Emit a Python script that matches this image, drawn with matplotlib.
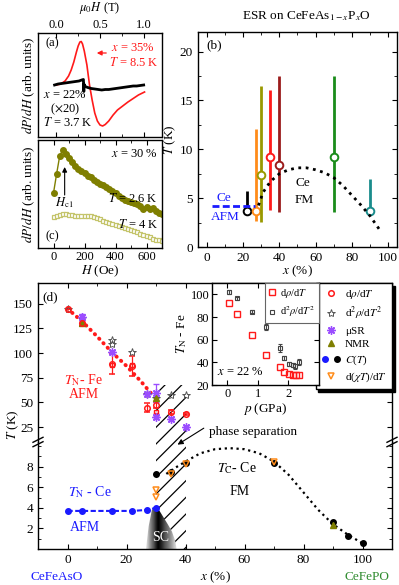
import numpy as np
import matplotlib
matplotlib.use('Agg')
import matplotlib.pyplot as plt
from matplotlib.patches import Rectangle, Polygon
from matplotlib.lines import Line2D
from matplotlib.legend_handler import HandlerTuple
from matplotlib.ticker import MultipleLocator

plt.rcParams['font.family'] = ['Liberation Serif', 'DejaVu Serif']
plt.rcParams['mathtext.fontset'] = 'stix'
plt.rcParams['font.size'] = 9.5
plt.rcParams['xtick.direction'] = 'in'
plt.rcParams['ytick.direction'] = 'in'
plt.rcParams['xtick.major.size'] = 3.5
plt.rcParams['ytick.major.size'] = 3.5
plt.rcParams['xtick.minor.size'] = 2
plt.rcParams['ytick.minor.size'] = 2
plt.rcParams['axes.linewidth'] = 1.0
plt.rcParams['hatch.linewidth'] = 0.9

W, H = 399, 585

RED = '#ff1a1a'
BLUE = '#1a1aff'
ORANGE = '#ff8c1a'
OLIVE = '#7f7f00'
PALE_OLIVE = '#c4c46a'
PURPLE = '#9b4dff'
STAR = '#555555'
GREEN_TXT = '#2e8b2e'

# ---- panel (a): ESR derivative spectra
a_red_field = [0.00, 0.05, 0.10, 0.14, 0.17, 0.20, 0.23, 0.25, 0.27, 0.285, 0.30, 0.32, 0.35,
               0.38, 0.41, 0.44, 0.47, 0.50, 0.53, 0.56, 0.60, 0.65, 0.70, 0.76, 0.82, 0.88, 0.94, 1.01]
a_red_signal = [52, 53, 56, 61, 67, 75, 85, 91, 95, 95.5, 93, 86, 72,
                52, 37, 24, 16, 12, 11, 12.5, 16, 22, 27, 31, 35, 38.5, 42, 45]
a_black_field = [-0.02, 0.02, 0.06, 0.10, 0.14, 0.18, 0.22, 0.26, 0.29, 0.31, 0.315, 0.316, 0.33,
                 0.36, 0.40, 0.44, 0.48, 0.52, 0.56, 0.60, 0.64, 0.68, 0.72, 0.76, 0.80, 0.84,
                 0.88, 0.92, 0.96, 1.00]
a_black_signal = [52, 53, 53.5, 54, 54.5, 55, 55.5, 56, 57, 57.5, 45.5, 53, 50.5,
                  49.5, 48.5, 48, 47.5, 47, 47.5, 47.5, 48, 48.5, 49, 49.5, 50, 50.5,
                  51, 51, 51.5, 52]

# ---- panel (c): dP/dH vs H at x = 30 %
c_field = [0, 20, 40, 60, 80, 100, 120, 140, 160, 180, 200, 220, 240, 260, 280, 300, 320, 340,
           360, 380, 400, 420, 440, 460, 480, 500, 520, 540, 560, 580, 600, 620, 640, 660, 680, 700]
c_signal_2p6K = [55, 74, 92, 98, 94, 90, 86, 82.5, 79, 77, 75, 72.5, 71, 68, 66, 64.5, 63, 61.5,
                 59.5, 57, 55, 52.5, 50.5, 48.5, 47, 46, 45, 44, 42.5, 39.5, 41.5, 39, 40, 37.5, 35.5, 34]
c_signal_4K = [30.7, 32.5, 33.5, 34, 34, 33.5, 33, 32.5, 32, 32, 32.5, 32.5, 32, 31, 30, 29, 27.5, 26.5,
               25.5, 24.5, 23.5, 22.5, 21.5, 20.5, 19.5, 18.5, 17, 16, 14.5, 13, 12, 11, 9.5, 8.5, 8, 7]

# ---- panel (b): ESR temperature ranges
b_x = [22, 27, 30, 35, 40, 70, 90]
b_T = [3.65, 3.7, 7.4, 9.2, 8.4, 9.2, 3.7]
b_T_low = [3.65, 2.7, 2.55, 3.8, 3.6, 3.6, 3.7]
b_T_high = [5.7, 12.1, 16.5, 16.1, 17.5, 17.5, 7.0]
b_colors = ['black', ORANGE, '#999900', RED, '#9b1c1c', '#1a8c1a', '#1a8c8c']
b_tc_x = [28.4, 31, 35, 40, 45, 50, 55, 60, 65, 70, 75, 80, 85, 90, 96]
b_tc_T = [4.25, 5.6, 6.7, 7.5, 7.9, 8.1, 8.1, 7.9, 7.6, 7.1, 6.3, 5.3, 4.3, 3.2, 1.6]
b_afm_x = [2.7, 26.6]
b_afm_T = [4.18, 4.18]

# ---- panel (d): phase diagram
d_fe_line_x = [0, 5, 10, 15, 20, 25, 29]
d_fe_line_T = [145, 132, 117, 101, 87, 71, 57]
d_rho_x = [0, 5, 15, 22, 27, 30, 35, 40]
d_rho_T = [145, 131, 89, 87, 44.5, 47.5, 40.5, 38.5]
d_rho_err = [0, 4, 10, 10, 4.5, 3, 2, 1]
d_sq_x = [5, 15, 22, 30, 30]
d_sq_T = [131, 88, 88, 40, 37.5]
d_star_x = [0, 5, 15, 15, 22, 27, 30, 35, 40]
d_star_T = [145, 136, 113, 109, 101, 59, 55, 58, 58]
d_musr_x = [5, 15, 27, 30, 30, 35, 40]
d_musr_T = [137, 101.5, 59, 60, 35, 33.5, 25.5]
d_musr_err = [3, 0, 0, 9, 0, 0, 0]
d_nmr_hi_x = [5, 30]
d_nmr_hi_T = [130, 55]
d_ce_afm_x = [0, 5, 15, 22, 27, 30]
d_ce_afm_T = [3.7, 3.7, 3.7, 3.7, 3.8, 4.0]
d_ct_black_x = [30, 35, 40, 70, 90, 95, 100]
d_ct_black_T = [7.3, 7.5, 8.4, 8.4, 2.6, 1.3, 0.6]
d_chi_x = [30, 30, 35, 40, 70]
d_chi_T = [5.7, 5.1, 7.3, 8.3, 8.5]
d_nmr_lo_x = [90]
d_nmr_lo_T = [2.3]
d_tc_x = [33.5, 36, 40, 45, 50, 55, 60, 65, 70, 75, 80, 85, 90, 95, 100]
d_tc_T = [7.3, 7.8, 8.5, 9.3, 9.7, 9.8, 9.7, 9.3, 8.5, 7.2, 5.5, 3.8, 2.4, 1.4, 0.55]
sc_dome_x = [26.6, 27.5, 28.6, 29.7, 31.0, 32.5, 34.0, 35.4, 36.5, 37.0]
sc_dome_T = [0.0, 2.2, 3.8, 4.1, 3.8, 3.1, 2.4, 1.7, 0.8, 0.0]

# ---- inset: T_N(Fe) vs pressure, x = 22 %
p_rho = [0.04, 0.31, 0.82, 1.28, 1.71, 1.87, 2.01, 2.14, 2.25, 2.35]
tn_rho = [92, 83, 64.5, 46.7, 36.3, 31.8, 29.8, 28.9, 28.9, 28.9]
p_d2rho = [0.04, 0.31, 0.82, 1.25, 1.71, 1.84, 2.01, 2.14, 2.22, 2.35]
tn_d2rho = [102, 96.5, 84.6, 71.3, 53, 44, 38.5, 37.5, 36.5, 40.5]
tn_d2rho_err = [1.5, 1.5, 1.5, 2.5, 3.5, 2, 2, 2, 2, 2.5]


def px_axes(fig, left, top, right, bottom, **kw):
    return fig.add_axes([left / W, 1 - bottom / H, (right - left) / W, (bottom - top) / H], **kw)


def fig_text(fig, x, y, s, **kw):
    fig.text(x / W, 1 - y / H, s, **kw)


fig = plt.figure(figsize=(W / 100, H / 100), dpi=100)

# ======================= (a)
ax_a = px_axes(fig, 38, 33, 162, 137)
ax_a.plot(a_red_field, a_red_signal, color=RED, lw=1.2)
ax_a.plot(a_black_field, a_black_signal, color='black', lw=2.0)
ax_a.set_xlim(-0.21, 1.21)
ax_a.set_ylim(0, 104)
ax_a.xaxis.set_major_locator(MultipleLocator(0.5))
ax_a.xaxis.set_minor_locator(MultipleLocator(0.25))
ax_a.xaxis.set_major_formatter(matplotlib.ticker.FormatStrFormatter('%.1f'))
ax_a.tick_params(axis='x', which='both', top=True, bottom=True, labeltop=True, labelbottom=False,
                 pad=1.5, labelsize=9)
ax_a.set_yticks([])
ax_a.set_ylabel(r'$dP/dH$ (arb. units)', labelpad=1)
fig_text(fig, 100, 8, r'$\mu_0H$ (T)', ha='center', va='center', fontsize=9)
ax_a.text(0.06, 0.90, '(a)', transform=ax_a.transAxes, va='center', fontsize=9)
fig_text(fig, 111, 48, r'$x$ = 35%', color=RED, va='center', fontsize=9)
fig_text(fig, 109, 62, r'$T$ = 8.5 K', color=RED, va='center', fontsize=9)
fig.add_artist(matplotlib.patches.FancyArrowPatch((109 / W, 1 - 53 / H), (94 / W, 1 - 53 / H),
                                                  transform=fig.transFigure, arrowstyle='-|>',
                                                  mutation_scale=7, color=RED, lw=0.9))
fig_text(fig, 43, 95, r'$x$ = 22%', va='center', fontsize=9)
fig_text(fig, 65, 109, r'($\times$20)', va='center', ha='center', fontsize=9)
fig_text(fig, 43, 122, r'$T$ = 3.7 K', va='center', fontsize=9)

# ======================= (c)
ax_c = px_axes(fig, 38, 140, 162, 248)
ax_c.plot(c_field, c_signal_2p6K, '-o', color=OLIVE, ms=4, lw=1.0)
ax_c.plot(c_field, c_signal_4K, '-s', color=PALE_OLIVE, mfc='white', ms=3.5, mew=0.9, lw=0.8)
ax_c.set_xlim(-100, 700)
ax_c.set_ylim(0, 108)
ax_c.xaxis.set_major_locator(MultipleLocator(200))
ax_c.xaxis.set_minor_locator(MultipleLocator(100))
ax_c.tick_params(axis='x', which='both', top=True, labelsize=9, pad=2.5)
ax_c.set_yticks([])
ax_c.set_xlabel(r'$H$ (Oe)', labelpad=0)
ax_c.set_ylabel(r'$dP/dH$ (arb. units)', labelpad=1)
ax_c.text(0.97, 0.87, r'$x$ = 30 %', transform=ax_c.transAxes, ha='right', va='center', fontsize=9)
ax_c.text(0.97, 0.46, r'$T$ = 2.6 K', transform=ax_c.transAxes, ha='right', va='center', fontsize=9)
ax_c.text(0.97, 0.22, r'$T$ = 4 K', transform=ax_c.transAxes, ha='right', va='center', fontsize=9)
ax_c.text(0.06, 0.11, '(c)', transform=ax_c.transAxes, va='center', fontsize=9)
ax_c.annotate('', xy=(72, 81), xytext=(72, 53),
              arrowprops=dict(arrowstyle='-|>', color='black', lw=0.8, mutation_scale=7,
                              shrinkA=0, shrinkB=0))
ax_c.text(70, 45, r'$H_{\rm c1}$', ha='center', va='center', fontsize=9)

# ======================= (b)
ax_b = px_axes(fig, 198, 32, 397, 247)
for x, t, lo, hi, c in zip(b_x, b_T, b_T_low, b_T_high, b_colors):
    ax_b.plot([x, x], [lo, hi], color=c, lw=2.0, solid_capstyle='butt')
    ax_b.plot(x, t, 'o', mfc='white', mec=c, mew=1.4, ms=5.5)
ax_b.plot(b_tc_x, b_tc_T, ':', color='black', lw=2.0)
ax_b.plot(b_afm_x, b_afm_T, '--', color=BLUE, lw=2.0, dashes=(2.5, 1.2))
ax_b.set_xlim(-5, 105)
ax_b.set_ylim(0, 22)
ax_b.xaxis.set_major_locator(MultipleLocator(20))
ax_b.xaxis.set_minor_locator(MultipleLocator(10))
ax_b.yaxis.set_major_locator(MultipleLocator(5))
ax_b.yaxis.set_minor_locator(MultipleLocator(2.5))
ax_b.tick_params(which='both', top=True, right=True)
ax_b.set_xlabel(r'$x$ (%)', labelpad=0)
ax_b.set_ylabel(r'$T$ (K)', labelpad=1)
ax_b.text(0.04, 0.94, '(b)', transform=ax_b.transAxes, va='center')
ax_b.text(9.5, 5.0, 'Ce', color=BLUE, ha='center', va='center')
ax_b.text(10, 3.05, 'AFM', color=BLUE, ha='center', va='center')
ax_b.text(53, 6.5, 'Ce', ha='center', va='center')
ax_b.text(53.5, 4.8, 'FM', ha='center', va='center')
fig_text(fig, 306, 16, r'ESR on CeFeAs$_{1-x}$P$_x$O', ha='center', va='center')

# ======================= (d) upper
ax_up = px_axes(fig, 38, 283, 392, 442)
ax_lo = px_axes(fig, 38, 442, 392, 549)

ax_up.plot(d_fe_line_x, d_fe_line_T, color=RED, lw=2.8, ls=(0, (0.1, 1.5)), dash_capstyle='round', zorder=2)
ax_up.errorbar(d_rho_x, d_rho_T, yerr=d_rho_err, fmt='o', mfc='none', mec=RED, ecolor=RED,
               ms=4, mew=1.1, elinewidth=0.9, capsize=2, zorder=4)
ax_up.plot(d_sq_x, d_sq_T, 's', mfc='none', mec=RED, ms=3.5, mew=1.0, zorder=4)
ax_up.plot(d_star_x, d_star_T, '*', mfc='none', mec=STAR, ms=6, mew=0.7, zorder=4)
ax_up.errorbar(d_musr_x, d_musr_T, yerr=d_musr_err, fmt='none', ecolor=PURPLE, elinewidth=0.9,
               capsize=2, zorder=4)
ax_up.plot(d_musr_x, d_musr_T, ls='none', marker=(8, 2, 0), color=PURPLE, ms=6, mew=1.0, zorder=4)
ax_up.plot(d_nmr_hi_x, d_nmr_hi_T, '^', color=OLIVE, ms=5, zorder=4)
ax_up.add_patch(Rectangle((30, 10), 10, 58, hatch='//', fill=False, edgecolor='black', lw=0, zorder=1))
ax_up.set_xlim(-10, 110)
ax_up.set_ylim(10, 171)
ax_up.set_yticks([25, 50, 75, 100, 125, 150])
ax_up.xaxis.set_major_locator(MultipleLocator(20))
ax_up.xaxis.set_minor_locator(MultipleLocator(10))
ax_up.tick_params(axis='x', which='both', bottom=False, top=True, labelbottom=False)
ax_up.tick_params(axis='y', which='both', right=True)
ax_up.spines['bottom'].set_visible(False)
ax_up.text(-8.5, 157, '(d)', va='center')
ax_up.text(5.5, 73, r'$T_{\rm N}$- Fe', color=RED, ha='center', va='center', fontsize=10)
ax_up.text(5.7, 58, 'AFM', color=RED, ha='center', va='center', fontsize=10)
ax_up.text(48, 20.4, 'phase separation', ha='left', va='center')

# legend for (d)
h_rho = Line2D([], [], ls='none', marker='o', mfc='none', mec=RED, ms=4, mew=1.1)
h_star = Line2D([], [], ls='none', marker='*', mfc='none', mec=STAR, ms=6, mew=0.7)
h_musr = Line2D([], [], ls='none', marker=(8, 2, 0), color=PURPLE, ms=6, mew=1.0)
h_nmr = Line2D([], [], ls='none', marker='^', color=OLIVE, ms=5)
h_ct_blue = Line2D([], [], ls='none', marker='o', color=BLUE, ms=4)
h_ct_black = Line2D([], [], ls='none', marker='o', color='black', ms=4)
h_chi = Line2D([], [], ls='none', marker='v', mfc='none', mec=ORANGE, ms=4.5, mew=1.1)
leg = ax_up.legend([h_rho, h_star, h_musr, h_nmr, (h_ct_blue, h_ct_black), h_chi],
                   [r'd$\rho$/d$T$', r'd$^2\rho$/d$T^2$', 'μSR', 'NMR', r'$C$($T$)', r'd($\chi T$)/d$T$'],
                   handler_map={tuple: HandlerTuple(ndivide=None, pad=0.4)},
                   loc='upper right', bbox_to_anchor=(1.0, 1.0), borderaxespad=0, fontsize=8,
                   frameon=True, fancybox=False, shadow={'color': 'black', 'alpha': 1},
                   edgecolor='black', framealpha=1, handlelength=1.8, handletextpad=0.4,
                   labelspacing=0.35, borderpad=0.45)
leg.get_frame().set_linewidth(1.0)
leg.set_zorder(10)

# ======================= (d) lower
ax_lo.add_patch(Rectangle((30, 0), 10, 10.4, hatch='//', fill=False, edgecolor='black', lw=0, zorder=1))
gx = np.linspace(sc_dome_x[0], sc_dome_x[-1], 200)
peak = 30.7
shade = np.where(gx < peak, (gx - gx[0]) / (peak - gx[0]), (gx[-1] - gx) / (gx[-1] - peak)) ** 0.8
im = ax_lo.imshow(shade[np.newaxis, :], extent=(gx[0], gx[-1], 0, max(sc_dome_T)), aspect='auto',
                  cmap='Greys', vmin=-0.2, vmax=1.0, zorder=2, interpolation='bilinear')
dome = Polygon(np.column_stack([sc_dome_x, sc_dome_T]), closed=True, facecolor='none',
               edgecolor='none', transform=ax_lo.transData)
ax_lo.add_patch(dome)
im.set_clip_path(dome)
ax_lo.plot(d_ce_afm_x, d_ce_afm_T, '-o', color=BLUE, ms=4, lw=1.5, dashes=(2.5, 1.2), zorder=4)
ax_lo.plot(d_tc_x, d_tc_T, ':', color='black', lw=1.6, zorder=3)
ax_lo.plot(d_ct_black_x, d_ct_black_T, 'o', color='black', ms=4, zorder=4)
ax_lo.plot(d_chi_x, d_chi_T, 'v', mfc='none', mec=ORANGE, ms=4.5, mew=1.1, zorder=5)
ax_lo.plot(d_nmr_lo_x, d_nmr_lo_T, '^', color=OLIVE, ms=5, zorder=5)
ax_lo.set_xlim(-10, 110)
ax_lo.set_ylim(0, 10.4)
ax_lo.set_yticks([2, 4, 6, 8])
ax_lo.xaxis.set_major_locator(MultipleLocator(20))
ax_lo.xaxis.set_minor_locator(MultipleLocator(10))
ax_lo.yaxis.set_minor_locator(MultipleLocator(1))
ax_lo.tick_params(axis='x', which='both', top=False)
ax_lo.tick_params(axis='y', which='both', right=True)
ax_lo.spines['top'].set_visible(False)
ax_lo.text(7.5, 5.5, r'$T_{\rm N}$ - Ce', color=BLUE, ha='center', va='center', fontsize=10)
ax_lo.text(6, 2.1, 'AFM', color=BLUE, ha='center', va='center', fontsize=10)
ax_lo.text(57.4, 7.9, r'$T_{\rm C}$- Ce', ha='center', va='center', fontsize=10)
ax_lo.text(58.5, 5.6, 'FM', ha='center', va='center', fontsize=10)
ax_lo.text(31.4, 1.1, 'SC', color='white', ha='center', va='center', fontsize=10, zorder=6)
ax_lo.annotate('', xy=(36.5, 10.0), xytext=(47, 25.5), textcoords=ax_up.transData,
               arrowprops=dict(arrowstyle='-|>', color='black', lw=0.8, mutation_scale=8),
               annotation_clip=False, zorder=6)

# break marks
for xa in (0.0, 1.0):
    for dy in (-2.2, 2.2):
        ax_lo.plot([xa - 5 / 354, xa + 5 / 354], [1 + (dy - 2.5) / 107, 1 + (dy + 2.5) / 107],
                   color='black', lw=1.0, transform=ax_lo.transAxes, clip_on=False, zorder=7)

fig_text(fig, 13, 425, r'$T$ (K)', rotation=90, ha='center', va='center')
fig_text(fig, 215, 577, r'$x$ (%)', ha='center', va='center')
fig_text(fig, 57, 577, 'CeFeAsO', color=BLUE, ha='center', va='center')
fig_text(fig, 367, 577, 'CeFePO', color=GREEN_TXT, ha='center', va='center')

# ======================= inset
ax_in = px_axes(fig, 212, 283, 319, 385, zorder=5)
ax_in.plot(p_rho, tn_rho, 's', mfc='none', mec=RED, ms=4, mew=1.0)
ax_in.errorbar(p_d2rho, tn_d2rho, yerr=tn_d2rho_err, fmt='s', mfc='none', mec='#444444',
               ecolor='#444444', ms=3.5, mew=0.8, elinewidth=0.8, capsize=1.5)
ax_in.set_xlim(-0.5, 3.0)
ax_in.set_ylim(20, 110)
ax_in.set_xticks([0, 1, 2])
ax_in.set_yticks([20, 40, 60, 80, 100])
ax_in.tick_params(which='both', top=True, right=True, labelsize=9, pad=2)
ax_in.set_xlabel(r'$p$ (GPa)', labelpad=1)
ax_in.set_ylabel(r'$T_{\rm N}$ - Fe', labelpad=1)
ax_in.text(-0.33, 31.8, r'$x$ = 22 %', va='center', fontsize=9)
h_in_rho = Line2D([], [], ls='none', marker='s', mfc='none', mec=RED, ms=4, mew=1.0)
h_in_d2 = Line2D([], [], ls='none', marker='s', mfc='none', mec='#444444', ms=3.5, mew=0.8)
leg_in = ax_in.legend([h_in_rho, h_in_d2], [r'd$\rho$/d$T$', r'd$^2\rho$/d$T^2$'],
                      loc='upper right', borderaxespad=0, fontsize=7.5, fancybox=False,
                      edgecolor='#666666', framealpha=1, handlelength=0.7, handletextpad=0.4,
                      labelspacing=0.45, borderpad=0.35)
leg_in.get_frame().set_linewidth(0.8)

fig.savefig('out.png', dpi=100)
